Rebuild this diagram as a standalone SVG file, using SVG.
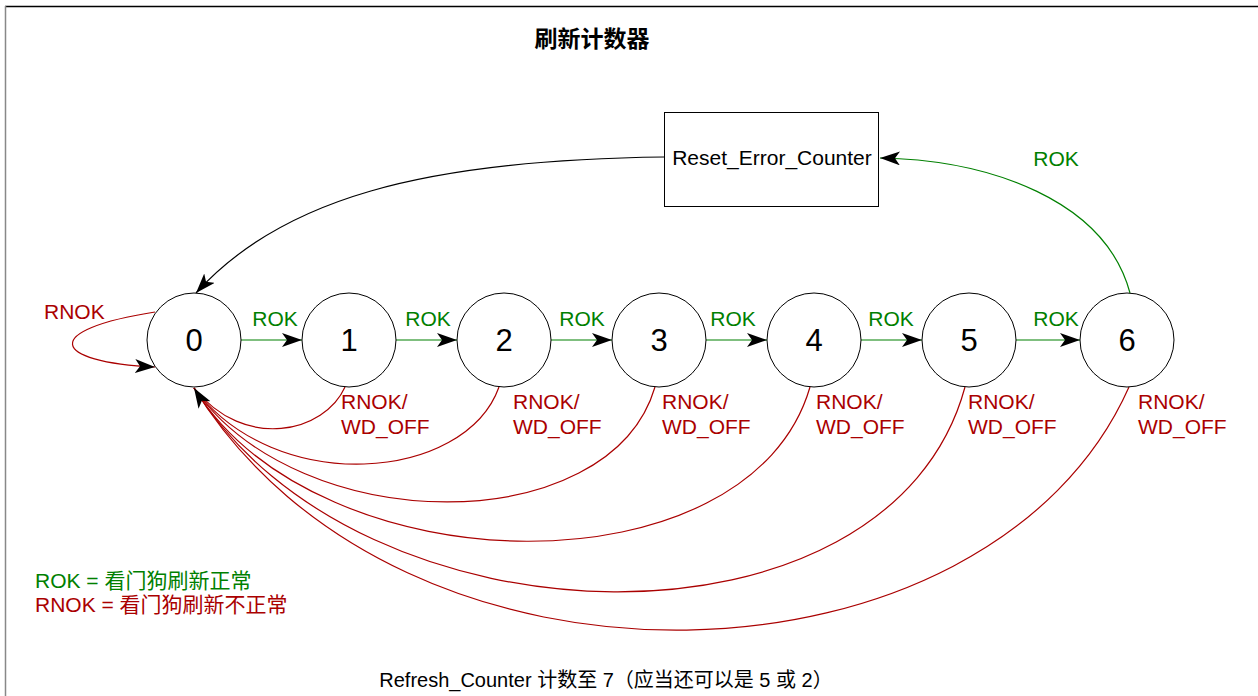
<svg xmlns="http://www.w3.org/2000/svg" width="1258" height="696" viewBox="0 0 1258 696">
<style>
.st{fill:#fff;stroke:#000;stroke-width:1}
.num{font-family:"Liberation Sans","Noto Sans CJK SC",sans-serif;font-size:31px;text-anchor:middle;fill:#000}
.lbl{font-family:"Liberation Sans","Noto Sans CJK SC",sans-serif;font-size:21px}
.g{fill:#008000}
.r{fill:#aa0000}
.eg{fill:none;stroke:#008000;stroke-width:1.2}
.er{fill:none;stroke:#aa0000;stroke-width:1.2}
.ek{fill:none;stroke:#000;stroke-width:1.2}
</style>
<defs>
<marker id="ah" markerUnits="userSpaceOnUse" markerWidth="24" markerHeight="16" refX="20" refY="7" orient="auto">
<path d="M0,0 L20,7 L0,14 L5,7 z" fill="#000"/>
</marker>
</defs>
<rect x="0" y="0" width="1258" height="696" fill="#fff"/>
<line x1="5" y1="6.5" x2="1258" y2="6.5" stroke="#000" stroke-width="1.5"/>
<line x1="5.5" y1="6" x2="5.5" y2="696" stroke="#888" stroke-width="1.5"/>
<text x="592" y="47" font-family="Liberation Sans,'Noto Sans CJK SC',sans-serif" font-size="23" font-weight="bold" text-anchor="middle">刷新计数器</text>

<g id="connectors">
<path class="er" d="M155,312 C40,330 50,362 155,367" marker-end="url(#ah)"/>
<path class="ek" d="M664,157 C420,160 280,200 196,293" marker-end="url(#ah)"/>
<path class="eg" d="M1130,293 C1105,200 990,160 880,158" marker-end="url(#ah)"/>
<path class="eg" d="M241,340 L302,340" marker-end="url(#ah)"/>
<path class="eg" d="M396,340 L457,340" marker-end="url(#ah)"/>
<path class="eg" d="M551,340 L612,340" marker-end="url(#ah)"/>
<path class="eg" d="M706,340 L767,340" marker-end="url(#ah)"/>
<path class="eg" d="M861,340 L922,340" marker-end="url(#ah)"/>
<path class="eg" d="M1016,340 L1080,340" marker-end="url(#ah)"/>
<path class="er" d="M345,387 C325,432 245,452 194,388"/>
<path class="er" d="M499,387 C465,482 275,497 194,388"/>
<path class="er" d="M655,387 C610,540 300,540 194,388"/>
<path class="er" d="M810,387 C750,595 320,590 194,388"/>
<path class="er" d="M965,387 C890,665 360,655 194,388"/>
<path class="er" d="M1129,387 C990,700 400,722 194,388" marker-end="url(#ah)"/>
<text class="lbl r" x="44" y="319">RNOK</text>
<text class="lbl g" x="275" y="326" text-anchor="middle">ROK</text>
<text class="lbl g" x="428" y="326" text-anchor="middle">ROK</text>
<text class="lbl g" x="582" y="326" text-anchor="middle">ROK</text>
<text class="lbl g" x="733" y="326" text-anchor="middle">ROK</text>
<text class="lbl g" x="891" y="326" text-anchor="middle">ROK</text>
<text class="lbl g" x="1056" y="326" text-anchor="middle">ROK</text>
<text class="lbl g" x="1056" y="166" text-anchor="middle">ROK</text>
<text class="lbl r" x="341" y="409">RNOK/</text><text class="lbl r" x="341" y="434">WD_OFF</text>
<text class="lbl r" x="513" y="409">RNOK/</text><text class="lbl r" x="513" y="434">WD_OFF</text>
<text class="lbl r" x="662" y="409">RNOK/</text><text class="lbl r" x="662" y="434">WD_OFF</text>
<text class="lbl r" x="816" y="409">RNOK/</text><text class="lbl r" x="816" y="434">WD_OFF</text>
<text class="lbl r" x="968" y="409">RNOK/</text><text class="lbl r" x="968" y="434">WD_OFF</text>
<text class="lbl r" x="1138" y="409">RNOK/</text><text class="lbl r" x="1138" y="434">WD_OFF</text>
</g>

<g id="node-reset">
<rect class="st" x="664.5" y="112.5" width="214" height="94" stroke="#555"/>
<text class="lbl" x="772" y="165" text-anchor="middle" fill="#000">Reset_Error_Counter</text>
</g>
<g id="node-0"><circle class="st" cx="194" cy="340" r="47"/><text class="num" x="194" y="351">0</text></g>
<g id="node-1"><circle class="st" cx="349" cy="340" r="47"/><text class="num" x="349" y="351">1</text></g>
<g id="node-2"><circle class="st" cx="504" cy="340" r="47"/><text class="num" x="504" y="351">2</text></g>
<g id="node-3"><circle class="st" cx="659" cy="340" r="47"/><text class="num" x="659" y="351">3</text></g>
<g id="node-4"><circle class="st" cx="814" cy="340" r="47"/><text class="num" x="814" y="351">4</text></g>
<g id="node-5"><circle class="st" cx="969" cy="340" r="47"/><text class="num" x="969" y="351">5</text></g>
<g id="node-6"><circle class="st" cx="1127" cy="340" r="47"/><text class="num" x="1127" y="351">6</text></g>

<g id="legend">
<text class="lbl g" x="35" y="588" font-size="20">ROK = 看门狗刷新正常</text>
<text class="lbl r" x="35" y="612" font-size="20">RNOK = 看门狗刷新不正常</text>
</g>
<text x="606" y="687" font-family="Liberation Sans,'Noto Sans CJK SC',sans-serif" font-size="20" text-anchor="middle" fill="#000">Refresh_Counter 计数至 7（应当还可以是 5 或 2）</text>
</svg>
